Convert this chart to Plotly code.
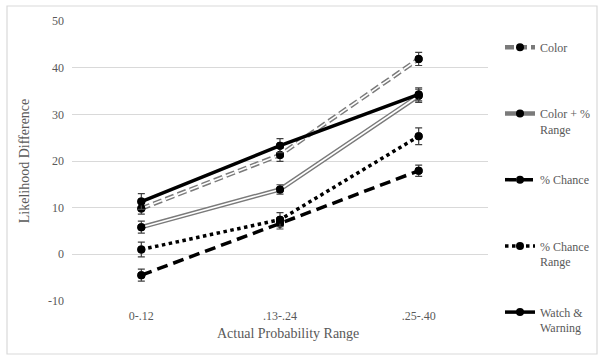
import plotly.graph_objects as go

categories = ["0-.12", ".13-.24", ".25-.40"]
color_vals = [9.8, 21.3, 41.9]
color_err = [1.2, 1.4, 1.4]
colorrange_vals = [5.8, 13.9, 34.0]
colorrange_err = [1.3, 1.0, 1.4]
chance_vals = [-4.5, 6.6, 17.9]
chance_err = [1.3, 1.2, 1.2]
chancerange_vals = [1.0, 7.4, 25.3]
chancerange_err = [1.6, 1.5, 1.8]
watch_vals = [11.3, 23.3, 34.3]
watch_err = [1.7, 1.5, 1.4]
ytick_vals = [-10, 0, 10, 20, 30, 40, 50]
ytick_text = ["-10", "0", "10", "20", "30", "40", "50"]

FONT = "Liberation Serif, Times New Roman, serif"
TXT = "#595959"
fig = go.Figure()

def err(e):
    return dict(type="data", array=e, visible=True, color="#404040", thickness=1.2, width=3.5)

marker = dict(color="black", size=8)

series = [
    ("Color<br> ", color_vals, color_err, dict(color="#7a7a7a", width=4.5, dash="9px,4px"), dict(color="white", width=1.6, dash="9px,4px")),
    ("Color + %<br>Range", colorrange_vals, colorrange_err, dict(color="#7a7a7a", width=4.5), dict(color="white", width=1.6)),
    ("% Chance<br> ", chance_vals, chance_err, dict(color="black", width=3.5, dash="11px,6px"), None),
    ("% Chance<br>Range", chancerange_vals, chancerange_err, dict(color="black", width=3.5, dash="dot"), None),
    ("Watch &<br>Warning", watch_vals, watch_err, dict(color="black", width=3.5), None),
]

for i, (name, vals, e, line, inner) in enumerate(series):
    fig.add_trace(go.Scatter(x=categories, y=vals, mode="lines+markers", name=name,
                             line=line, marker=marker, legendgroup=str(i), showlegend=True))
    if inner is not None:
        fig.add_trace(go.Scatter(x=categories, y=vals, mode="lines", line=inner,
                                 showlegend=False, hoverinfo="skip", legendgroup=str(i)))
    fig.add_trace(go.Scatter(x=categories, y=vals, mode="markers", marker=marker,
                             error_y=err(e), showlegend=False, legendgroup=str(i)))

L, R, T, B = 72, 112, 21, 56
pw, ph = 600 - L - R, 357 - T - B

fig.update_layout(
    width=600, height=357,
    margin=dict(l=L, r=R, t=T, b=B, autoexpand=False),
    paper_bgcolor="white", plot_bgcolor="white",
    font=dict(family=FONT, color=TXT, size=12),
    xaxis=dict(type="category", range=[-0.5, 2.5], showgrid=False, showline=False,
               zeroline=False, ticks="", automargin=False, ticklabelstandoff=6,
               tickfont=dict(size=12, family=FONT, color=TXT)),
    yaxis=dict(range=[-10.05, 50.05], tickvals=ytick_vals, ticktext=ytick_text, automargin=False,
               showgrid=True, gridcolor="#d9d9d9", gridwidth=1, zeroline=False, showline=False,
               ticks="", ticklabelstandoff=7, tickfont=dict(size=12, family=FONT, color=TXT),
               title=dict(text="Likelihood Difference", font=dict(size=14, family=FONT, color=TXT))),
    legend=dict(x=(500 - L) / pw, y=(301 - 33) / ph, xanchor="left", yanchor="top",
                valign="top", tracegroupgap=32, maxheight=400,
                font=dict(size=12, family=FONT, color=TXT),
                bgcolor="rgba(0,0,0,0)", traceorder="grouped"),
    annotations=[dict(text="Actual Probability Range", xref="paper", yref="paper",
                      x=(288 - L) / pw, y=-(333 - 301) / ph, xanchor="center", yanchor="middle",
                      showarrow=False, font=dict(size=14, family=FONT, color=TXT))],
    shapes=[dict(type="rect", xref="paper", yref="paper",
                 x0=(7 - L) / pw, x1=(597 - L) / pw, y0=-(354 - 301) / ph, y1=(301 - 6) / ph,
                 line=dict(color="#d9d9d9", width=1.2), layer="below")],
)

fig.write_html("out.html", config={"displayModeBar": False},
               post_script="document.body.style.margin='0';document.body.style.overflow='hidden';")
